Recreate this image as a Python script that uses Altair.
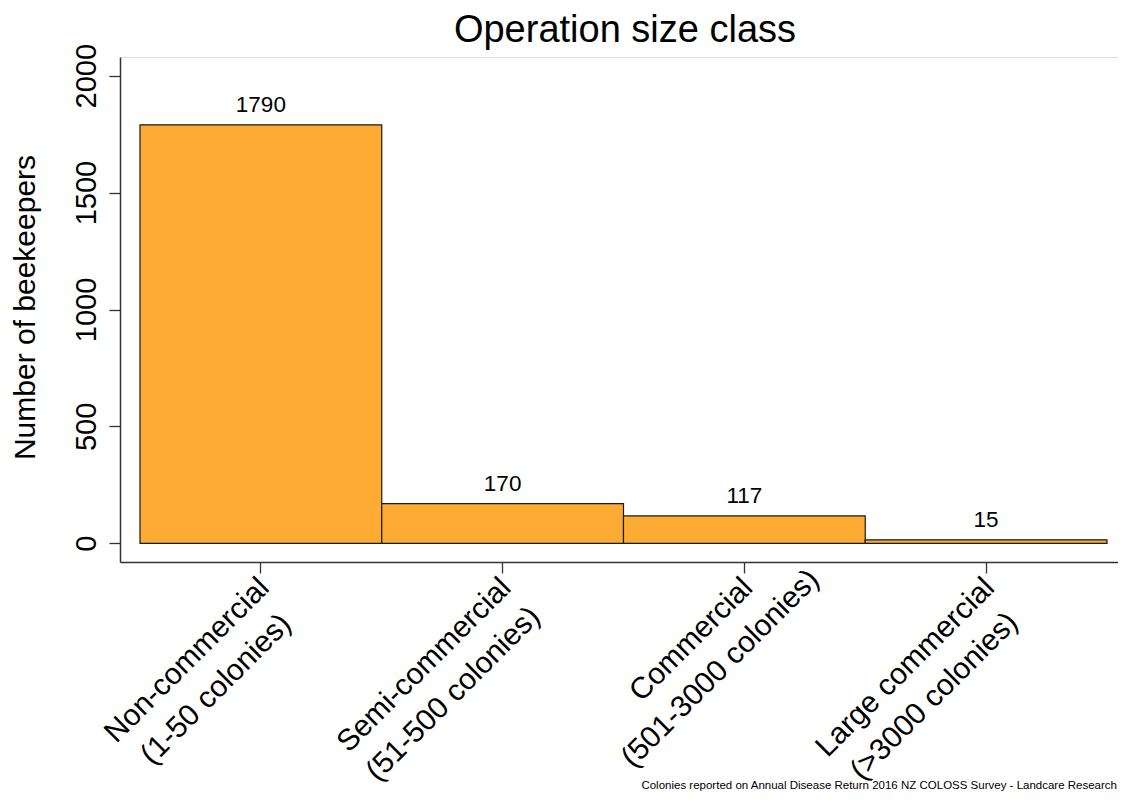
import json
import altair as alt
import pandas as pd

# ---- data ----
categories = ["Non-commercial", "Semi-commercial", "Commercial", "Large commercial"]
ranges = ["(1-50 colonies)", "(51-500 colonies)", "(501-3000 colonies)", "(>3000 colonies)"]
counts = [1790, 170, 117, 15]
y_ticks = [0, 500, 1000, 1500, 2000]
title_text = "Operation size class"
y_title = "Number of beekeepers"
footnote = "Colonies reported on Annual Disease Return 2016 NZ COLOSS Survey - Landcare Research"

# ---- styling ----
FONT = "Liberation Sans, Arial, Helvetica, sans-serif"
W, H = 998, 505
XFS = 30          # x label font size
BAR = "#FDAB33"
AX = "#333333"

# Arial advance widths (per 1000 em) for measuring the first label line
ARIAL = {" ": 278, "-": 333, "a": 556, "c": 500, "e": 556, "g": 556, "i": 222,
         "l": 222, "m": 833, "n": 556, "o": 556, "r": 333, "L": 556, "N": 722,
         "S": 667, "C": 722}


def text_width(s, size):
    return sum(ARIAL.get(ch, 556) for ch in s) / 1000.0 * size


l1 = [text_width(c, XFS) for c in categories]
cats_js = json.dumps(categories)
ranges_js = json.dumps(ranges)
off_js = "[" + ",".join(f"{-7 - 0.354 * w:.1f}" for w in l1) + "]"
pad_js = "[" + ",".join(f"{-1 + 0.354 * w:.1f}" for w in l1) + "]"

df = pd.DataFrame({"cat": categories, "count": counts,
                   "lab": [str(v) for v in counts]})

x_enc = alt.X(
    "cat:N",
    sort=categories,
    scale=alt.Scale(domain=categories, paddingInner=0, paddingOuter=0.0641, align=0.645),
    axis=alt.Axis(
        title=None,
        labelExpr=f"[datum.label, {ranges_js}[indexof({cats_js}, datum.label)]]",
        labelAngle=315,
        labelAlign="center",
        labelBaseline="top",
        labelFontSize=XFS,
        labelLineHeight=41,
        labelFont=FONT,
        labelColor="black",
        labelOffset={"expr": f"{off_js}[indexof({cats_js}, datum.value)]"},
        labelPadding={"expr": f"{pad_js}[indexof({cats_js}, datum.value)]"},
        labelOverlap=False,
        labelBound=False,
        labelLimit=1000,
        tickSize=11,
        tickColor=AX,
        tickWidth=1.3,
        domainColor=AX,
        domainWidth=1.5,
        grid=False,
    ),
)

y_enc = alt.Y(
    "count:Q",
    scale=alt.Scale(domain=[-80, 2080], nice=False, zero=False),
    axis=alt.Axis(
        title=y_title,
        values=y_ticks,
        format="d",
        labelAngle=270,
        labelAlign="center",
        labelBaseline="alphabetic",
        labelPadding=14,
        labelFontSize=29,
        labelFont=FONT,
        labelColor="black",
        tickSize=11,
        tickColor=AX,
        tickWidth=1.3,
        domainColor=AX,
        domainWidth=1.5,
        grid=False,
        titleAngle=270,
        titleAlign="center",
        titleBaseline="alphabetic",
        titleX=-86,
        titleY=250,
        titleFontSize=30,
        titleFontWeight="normal",
        titleFont=FONT,
        titleColor="black",
    ),
)

bars = alt.Chart(df).mark_bar(
    color=BAR, stroke="#1a1a1a", strokeWidth=1.2
).encode(x=x_enc, y=y_enc, y2=alt.datum(0))

values = alt.Chart(df).mark_text(
    baseline="alphabetic", dy=-13, fontSize=22.5, font=FONT, color="black"
).encode(x=x_enc, y=y_enc, text="lab:N")

title_df = pd.DataFrame({"t": [title_text]})
title_mark = alt.Chart(title_df).mark_text(
    align="center", baseline="alphabetic", fontSize=38, font=FONT, color="black"
).encode(x=alt.value(W / 2 + 6), y=alt.value(-15), text="t:N")

note_df = pd.DataFrame({"t": [footnote]})
note_mark = alt.Chart(note_df).mark_text(
    align="right", baseline="middle", fontSize=11.5, font=FONT, color="black"
).encode(x=alt.value(W - 1), y=alt.value(729), text="t:N")

chart = alt.layer(bars, values, title_mark, note_mark).properties(
    width=W,
    height=H,
    autosize=alt.AutoSizeParams(type="none"),
    padding={"left": 112, "top": 49, "right": 0, "bottom": 232},
    background="white",
).configure_view(stroke=None).configure(font=FONT)

chart.save("out.html", embed_options={"renderer": "svg", "actions": False})
